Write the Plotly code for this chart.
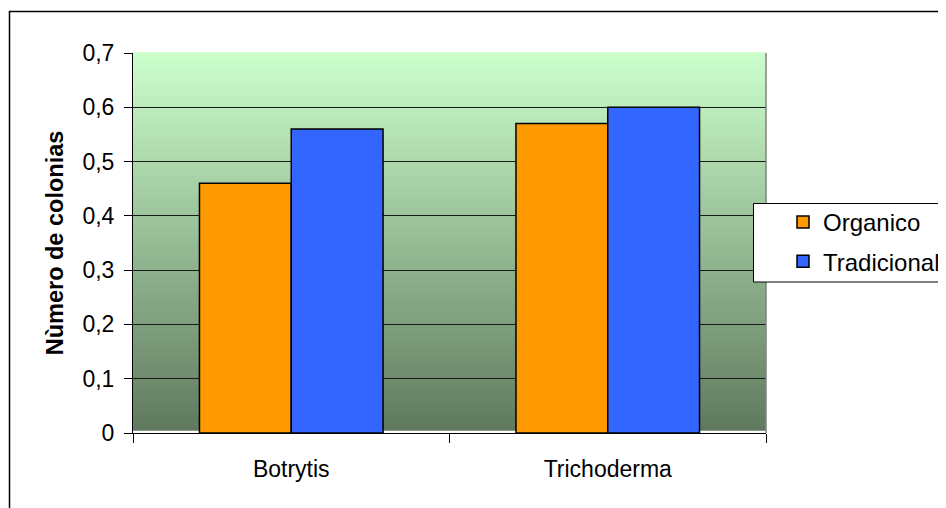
import plotly.graph_objects as go

categories = ["Botrytis", "Trichoderma"]
organico = [0.46, 0.57]
tradicional = [0.56, 0.60]
y_tickvals = [0, 0.1, 0.2, 0.3, 0.4, 0.5, 0.6, 0.7]
y_ticktext = ["0", "0,1", "0,2", "0,3", "0,4", "0,5", "0,6", "0,7"]

FONT = "Liberation Sans, Arial, sans-serif"
OFF = 8  # page body margin
W, H = 946 - OFF, 508 - OFF
# plot area in page pixels: x 133..766, y 53..433
L, T = 133 - OFF, 53 - OFF
R = W - (766 - OFF)
B = H - (433 - OFF)
PW, PH = W - L - R, H - T - B

def px_x(p):
    return (p - OFF - L) / PW

def px_y(p):
    return (H - B - (p - OFF)) / PH

fig = go.Figure()
fig.add_trace(go.Bar(name="Organico", x=categories, y=organico,
                     marker=dict(color="#FF9900", line=dict(color="#000000", width=1.5)),
                     legendgroup="a"))
fig.add_trace(go.Bar(name="Tradicional", x=categories, y=tradicional,
                     marker=dict(color="#3366FF", line=dict(color="#000000", width=1.5)),
                     legendgroup="b"))

shapes = []
# gradient background of the plot area
top_c = (204, 255, 204)
bot_c = (96, 121, 94)
n = 80
y_start = 0.006
for i in range(n):
    f0 = i / n
    f1 = (i + 1) / n
    t = (f0 + f1) / 2
    c = tuple(round(bot_c[k] + (top_c[k] - bot_c[k]) * t) for k in range(3))
    shapes.append(dict(type="rect", xref="x domain", yref="y domain",
                       x0=0, x1=1,
                       y0=y_start + (1 - y_start) * f0, y1=y_start + (1 - y_start) * f1 + 0.002,
                       fillcolor="rgb(%d,%d,%d)" % c, line=dict(width=0), layer="below"))
# right border of plot area
shapes.append(dict(type="line", xref="x domain", yref="y domain", x0=1, x1=1, y0=0, y1=1,
                   line=dict(color="#808080", width=1.5), layer="above"))
# outer chart border
shapes.append(dict(type="rect", xref="paper", yref="paper",
                   x0=px_x(9.5), x1=px_x(948), y0=px_y(515), y1=px_y(11.5),
                   line=dict(color="#000000", width=1.5), fillcolor="rgba(0,0,0,0)", layer="below"))
# legend box
shapes.append(dict(type="rect", xref="paper", yref="paper",
                   x0=px_x(753.5), x1=px_x(950), y0=px_y(282), y1=px_y(203.5),
                   line=dict(color="#000000", width=1), fillcolor="#FFFFFF", layer="above"))

fig.update_layout(
    width=W, height=H,
    margin=dict(l=L, r=R, t=T, b=B, autoexpand=False),
    paper_bgcolor="#FFFFFF",
    plot_bgcolor="rgba(0,0,0,0)",
    font=dict(family=FONT, size=23, color="#000000"),
    barmode="group",
    bargap=0.42,
    bargroupgap=0,
    showlegend=True,
    legend=dict(x=px_x(783), y=px_y(200), xanchor="left", yanchor="top",
                bgcolor="rgba(0,0,0,0)", borderwidth=0,
                font=dict(family=FONT, size=24, color="#000000"),
                tracegroupgap=5, traceorder="grouped"),
    shapes=shapes,
    xaxis=dict(
        showgrid=False, showline=True, linecolor="#000000", linewidth=1,
        ticks="outside", ticklen=9, tickcolor="#000000", tickwidth=1,
        tickson="boundaries", tickfont=dict(family=FONT, size=23),
        ticklabelstandoff=15,
        fixedrange=True,
    ),
    yaxis=dict(
        range=[0, 0.7], tickvals=y_tickvals, ticktext=y_ticktext,
        showgrid=True, gridcolor="#1a1a1a", gridwidth=1,
        showline=True, linecolor="#000000", linewidth=1,
        ticks="outside", ticklen=8, tickcolor="#000000", tickwidth=1,
        tickfont=dict(family=FONT, size=23),
        ticklabelstandoff=5,
        zeroline=False,
        title=dict(text="Nùmero de colonias", font=dict(family=FONT, size=23.5, weight="bold"),
                   standoff=12),
        automargin=False,
    ),
)

fig.write_html("out.html")
